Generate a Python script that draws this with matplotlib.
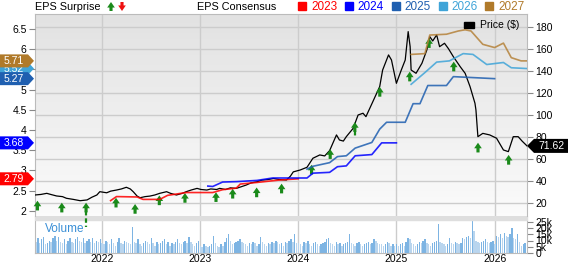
import numpy as np
import matplotlib
matplotlib.use('Agg')
import matplotlib.pyplot as plt
from matplotlib.patches import Polygon, Rectangle
from matplotlib.colors import LinearSegmentedColormap

plt.rcParams['font.family'] = ['Liberation Sans', 'DejaVu Sans']

# price line (decimal year, $)
price_t = [2021.32, 2021.38, 2021.44, 2021.48, 2021.54, 2021.60, 2021.64, 2021.71, 2021.78, 2021.85,
           2021.90, 2021.95, 2021.98, 2022.05, 2022.09, 2022.15, 2022.20, 2022.25, 2022.29, 2022.32,
           2022.36, 2022.39, 2022.44, 2022.49, 2022.54, 2022.59, 2022.66, 2022.70, 2022.76, 2022.82,
           2022.86, 2022.91, 2022.97, 2023.01, 2023.07, 2023.11, 2023.17, 2023.20, 2023.26, 2023.31,
           2023.37, 2023.42, 2023.47, 2023.52, 2023.58, 2023.63, 2023.69, 2023.75, 2023.81, 2023.88,
           2023.92, 2023.95, 2024.02, 2024.09, 2024.15, 2024.22, 2024.27, 2024.32, 2024.36, 2024.39,
           2024.42, 2024.46, 2024.49, 2024.56, 2024.61, 2024.66, 2024.69, 2024.76, 2024.83, 2024.86,
           2024.92, 2024.95, 2025.00, 2025.05, 2025.09, 2025.12, 2025.14, 2025.15, 2025.20, 2025.26,
           2025.31, 2025.34, 2025.37, 2025.41, 2025.44, 2025.49, 2025.53, 2025.58, 2025.65, 2025.70,
           2025.75, 2025.80, 2025.81, 2025.83, 2025.88, 2025.95, 2026.02, 2026.09, 2026.14, 2026.19,
           2026.24, 2026.28, 2026.33]
price_v = [27.0, 27.5, 28.5, 27.5, 26.1, 25.5, 24.0, 23.0, 21.8, 22.5,
           25.0, 27.0, 30.0, 29.0, 30.5, 31.5, 32.5, 34.0, 32.5, 30.0,
           26.0, 24.5, 25.5, 26.0, 27.0, 28.5, 30.0, 28.5, 27.0, 28.5,
           30.0, 31.5, 33.0, 32.0, 31.5, 32.5, 32.0, 33.0, 32.0, 33.5,
           33.0, 34.5, 36.0, 38.0, 39.0, 40.5, 41.0, 42.0, 41.0, 40.6,
           44.0, 48.0, 49.7, 52.2, 60.4, 63.4, 62.5, 67.3, 75.5, 81.6,
           77.0, 76.0, 80.0, 87.6, 99.7, 101.3, 98.2, 111.8, 125.5, 140.6,
           154.3, 149.7, 128.5, 140.6, 149.7, 175.5, 161.8, 140.6, 137.6, 146.7,
           158.8, 170.9, 167.0, 172.5, 161.8, 164.9, 160.0, 152.7, 143.6, 137.6,
           125.5, 110.4, 104.3, 80.0, 83.0, 81.6, 78.6, 67.9, 66.4, 80.0,
           80.0, 76.0, 71.62]

# EPS consensus by fiscal year
eps23_t = [2022.09, 2022.15, 2022.36, 2022.42, 2022.59, 2022.67, 2022.86, 2023.13, 2023.23, 2023.37,
           2023.41, 2023.58, 2023.81, 2024.00]
eps23_v = [2.25, 2.35, 2.34, 2.28, 2.28, 2.38, 2.45, 2.45, 2.52, 2.56, 2.66, 2.70, 2.76, 2.79]
eps24_t = [2023.08, 2023.13, 2023.23, 2023.37, 2023.58, 2023.74, 2024.09, 2024.15, 2024.32, 2024.40,
           2024.49, 2024.58, 2024.75, 2024.85, 2025.00]
eps24_v = [2.61, 2.60, 2.71, 2.72, 2.75, 2.81, 2.81, 2.93, 2.95, 3.09, 3.11, 3.36, 3.39, 3.68, 3.68]
eps25_t = [2024.09, 2024.15, 2024.32, 2024.40, 2024.49, 2024.58, 2024.75, 2024.83, 2024.90, 2025.09,
           2025.17, 2025.24, 2025.32, 2025.51, 2025.58, 2026.00]
eps25_v = [3.03, 3.10, 3.19, 3.34, 3.36, 3.55, 3.69, 4.02, 4.19, 4.19, 4.65, 4.65, 5.10, 5.10, 5.32, 5.27]
eps26_t = [2025.15, 2025.29, 2025.41, 2025.54, 2025.68, 2025.78, 2025.92, 2026.09, 2026.17, 2026.33]
eps26_v = [5.13, 5.42, 5.68, 5.71, 5.89, 5.87, 5.62, 5.67, 5.54, 5.52]
eps27_t = [2025.15, 2025.29, 2025.34, 2025.51, 2025.63, 2025.70, 2025.76, 2025.88, 2026.00, 2026.09,
           2026.17, 2026.27, 2026.33]
eps27_v = [5.87, 5.89, 6.35, 6.37, 6.45, 6.48, 6.45, 6.12, 6.04, 6.15, 5.79, 5.71, 5.71]

years = ['2023', '2024', '2025', '2026', '2027']
year_colors = ['#ff0000', '#0000ff', '#1f5fb0', '#3fa4d8', '#b5823a']
tag_vals = [2.79, 3.68, 5.27, 5.52, 5.71]

# EPS surprise arrows (all beats): date and price at arrow tip
surp_t = [2021.345, 2021.593, 2021.840, 2022.145, 2022.339, 2022.586, 2022.847, 2023.163, 2023.333, 2023.577,
          2023.831, 2024.136, 2024.326, 2024.577, 2024.831, 2025.136, 2025.333, 2025.584, 2025.831, 2026.143]
surp_p = [21.8, 20.0, 20.0, 24.5, 18.8, 26.6, 28.8, 29.5, 32.6, 33.8,
          37.3, 54.5, 68.6, 93.2, 125.2, 139.1, 169.5, 148.2, 74.5, 63.4]
surp_dash = {2: -2.5, 13: 79.0}

# weekly volume (thousands)
volume = [9, 12, 8, 11, 13, 7, 8, 10, 9, 12, 14, 10, 13, 9, 8, 11, 7, 10, 12, 9, 8, 11, 13, 10, 9, 12, 8, 10, 11, 9, 12, 8, 10, 9, 11,
          8, 7, 10, 9, 7, 11, 8, 6, 9, 12, 8, 7, 10, 9, 8, 7, 21, 9, 8, 11, 7, 6, 8, 10, 9, 7, 12, 8, 6, 9, 7, 8, 10, 11, 7, 9, 6, 8, 7, 9, 11, 8, 7, 9, 10, 8, 13, 9, 7, 6, 8, 10,
          6, 5, 7, 6, 5, 6, 7, 14, 8, 6, 5, 7, 6, 9, 12, 15, 10, 7, 8, 9, 10, 11, 9, 8, 7, 6, 8, 7, 9, 8, 6, 7, 13, 9, 7, 6, 8, 7, 9, 8, 10, 9, 7, 8, 6, 9, 8, 10, 11, 9, 15, 8,
          8, 7, 6, 9, 8, 10, 7, 6, 8, 9, 7, 6, 7, 8, 9, 11, 12, 8, 7, 6, 9, 7, 8, 6, 7, 8, 9, 15, 8, 7, 6, 8, 9, 7, 6, 7, 8, 9, 7, 8, 11, 10, 8, 7, 7, 6, 7, 9, 8, 6, 7, 6,
          7, 6, 7, 8, 6, 9, 12, 11, 8, 7, 6, 7, 9, 8, 10, 11, 8, 7, 6, 8, 9, 10, 23, 9, 8, 7, 6, 7, 12, 8, 7, 9, 8, 7, 8, 12, 11, 13, 14, 12, 26, 18, 10, 9, 8, 9, 10, 11, 9, 8, 9, 10,
          7, 14, 13, 15, 12, 16, 14, 13, 15, 20, 12, 11, 15, 9, 6, 7, 8]

W, H = 568, 264
fig = plt.figure(figsize=(W / 100, H / 100), dpi=100)
L, R = 35, 527
axv = fig.add_axes([L / W, (H - 253) / H, (R - L) / W, (253 - 220) / H])
axp = fig.add_axes([L / W, (H - 216) / H, (R - L) / W, (216 - 14) / H])
axe = axp.twinx()
axv.set_zorder(0)
axp.set_zorder(1)
axe.set_zorder(2)

x0, x1 = 2021.32, 2026.33
grid_c = '#cccccc'
spine_c = '#bbbbbb'
green = '#1a8a1a'
arrow_style = 'simple,head_width=1.1,head_length=0.8,tail_width=0.45'

# background gradient
cm = LinearSegmentedColormap.from_list('bg', ['#fbfbfb', '#e2e2e2'])
axp.imshow(np.linspace(0, 1, 64).reshape(-1, 1), cmap=cm, extent=[0, 1, 0, 1], origin='lower',
           transform=axp.transAxes, aspect='auto', zorder=0)
fig.patches.append(Rectangle((L / W, (H - 220) / H), (R - L) / W, 4 / H, transform=fig.transFigure,
                             color='#dedede', zorder=0))

# price panel
axp.plot(price_t, price_v, color='black', lw=0.9, zorder=3)
for i, (t, p) in enumerate(zip(surp_t, surp_p)):
    if i in surp_dash:
        axp.plot([t, t], [p - 8, surp_dash[i]], color=green, lw=1.6, ls=(0, (2, 1.3)),
                 clip_on=False, zorder=4)
    axp.annotate('', xy=(t, p), xytext=(0, -7), textcoords='offset points',
                 arrowprops=dict(arrowstyle=arrow_style, mutation_scale=5, fc=green, ec='none',
                                 shrinkA=0, shrinkB=0),
                 zorder=5)

axp.set_xlim(x0, x1)
axp.set_ylim(7.9, 191.5)
axp.yaxis.tick_right()
axp.set_yticks(range(20, 181, 20))
axp.set_xticks(range(2022, 2027))
axp.tick_params(axis='x', length=0, labelbottom=False)
axp.tick_params(axis='y', length=4, color='#888888', labelsize=7.5, pad=2)
axp.grid(True, color=grid_c, lw=1)
axp.set_axisbelow(True)
for s in ['top', 'left', 'right']:
    axp.spines[s].set_color(spine_c)
axp.spines['bottom'].set_visible(False)

# EPS axis
for t, v, c in zip([eps23_t, eps24_t, eps25_t, eps26_t, eps27_t],
                   [eps23_v, eps24_v, eps25_v, eps26_v, eps27_v], year_colors):
    axe.plot(t, v, color=c, lw=1.2, alpha=0.85)
axe.set_ylim(1.869, 6.871)
axe.yaxis.tick_left()
axe.set_yticks(np.arange(2, 6.6, 0.5))
axe.set_yticklabels(['%g' % v for v in np.arange(2, 6.6, 0.5)])
axe.tick_params(axis='y', length=4, color='#888888', labelsize=7.5, pad=2)
for s in axe.spines.values():
    s.set_visible(False)

# left value tags
tr = axe.get_yaxis_transform()
hh = 6.5 / 40.38
tag_colors = dict(zip(tag_vals, ['#ff0000', '#0000ff', '#1f5fb0', '#3fa4d8', '#b07a2a']))
for v, z in [(2.79, 6), (3.68, 6), (5.52, 6), (5.27, 7), (5.71, 8)]:
    a, b, tip = -35 / 492, -1 / 492, 6 / 492
    poly = Polygon([(a, v - hh), (b - tip, v - hh), (b, v), (b - tip, v + hh), (a, v + hh)],
                   closed=True, transform=tr, fc=tag_colors[v], ec='none', clip_on=False, zorder=z)
    axe.add_patch(poly)
    axe.text((a + b - tip) / 2, v, '%.2f' % v, transform=tr, color='white', fontsize=7.5,
             ha='center', va='center', clip_on=False, zorder=z + 0.5)

# right price tag
trp = axp.get_yaxis_transform()
last = price_v[-1]
hp = 7 / 1.1
poly = Polygon([(1.0, last), (1 + 7 / 492, last - hp), (1 + 41 / 492, last - hp),
                (1 + 41 / 492, last + hp), (1 + 7 / 492, last + hp)], closed=True,
               transform=trp, fc='black', ec='none', clip_on=False, zorder=10)
axp.add_patch(poly)
axp.text(1 + 24.5 / 492, last, '%.2f' % last, transform=trp, color='white', fontsize=7.5,
         ha='center', va='center', clip_on=False, zorder=11)

# volume panel
vt = x0 + np.arange(len(volume)) / 52 + 0.01
vcol = ['#7db4e3' if i > 0 and volume[i] > volume[i - 1] else '#b9d5ee' for i in range(len(volume))]
axv.bar(vt, volume, width=0.72 / 52, color=vcol, zorder=2)
axv.set_xlim(x0, x1)
axv.set_ylim(0, 26.4)
axv.yaxis.tick_right()
axv.set_yticks([0, 5, 10, 15, 20, 25])
axv.set_yticklabels(['0', '5k', '10k', '15k', '20k', '25k'])
axv.set_xticks(range(2022, 2027))
axv.tick_params(axis='y', length=4, color='#888888', labelsize=7.5, pad=2)
axv.tick_params(axis='x', length=0, labelsize=7.5, pad=1)
axv.grid(True, axis='x', color=grid_c, lw=1)
axv.set_axisbelow(True)
for s in ['left', 'right', 'bottom']:
    axv.spines[s].set_color(spine_c)
axv.spines['top'].set_visible(False)
axv.text(10 / 492, 0.72, 'Volume', transform=axv.transAxes,
         color='#3a8fd6', fontsize=8.5, va='center', ha='left', zorder=5)

# header
def fy(py):
    return (H - py) / H

fig.text(L / W, fy(7), 'EPS Surprise', fontsize=7.8, va='center', ha='left')
fig.text(197 / W, fy(7), 'EPS Consensus', fontsize=7.8, va='center', ha='left')
axp.annotate('', xy=(111, H - 2), xytext=(111, H - 11), xycoords='figure pixels',
             arrowprops=dict(arrowstyle=arrow_style, mutation_scale=5, fc=green, ec='none',
                             shrinkA=0, shrinkB=0))
axp.annotate('', xy=(122, H - 11), xytext=(122, H - 2), xycoords='figure pixels',
             arrowprops=dict(arrowstyle=arrow_style, mutation_scale=5, fc='#ee1111', ec='none',
                             shrinkA=0, shrinkB=0))
sq_x = [298, 344.5, 391.5, 438.5, 485]
for yr, c, sx in zip(years, year_colors, sq_x):
    c2 = c if yr != '2027' else '#b07a2a'
    fig.patches.append(Rectangle((sx / W, fy(10)), 8 / W, 8 / H, transform=fig.transFigure, color=c2))
    fig.text((sx + 13) / W, fy(6.5), yr, fontsize=8.5, va='center', ha='left', color=c2)

fig.patches.append(Rectangle((464 / W, fy(28)), 10 / W, 6 / H, transform=fig.transFigure, color='black'))
fig.text(480 / W, fy(25), 'Price ($)', fontsize=7.5, va='center', ha='left')

fig.savefig('out.png', dpi=100)
